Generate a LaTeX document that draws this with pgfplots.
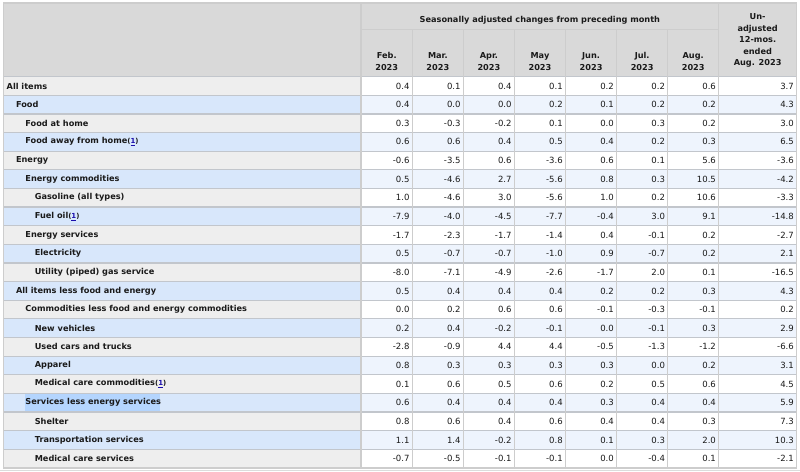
\documentclass[border=0pt]{standalone}
\usepackage{pgfplots}
\usepackage{pgfplotstable}
\pgfplotsset{compat=1.18}
\usepackage{fontspec}
\setmainfont{DejaVu Sans}
\definecolor{hdr}{HTML}{D9D9D9}
\definecolor{graylab}{HTML}{EEEEEE}
\definecolor{bluelab}{HTML}{D8E7FB}
\definecolor{bluenum}{HTML}{EEF4FD}
\definecolor{gridc}{HTML}{C2C6CC}
\definecolor{vgrid}{HTML}{CDCDCD}
\definecolor{sel}{HTML}{B4D5FE}
\definecolor{linkblue}{HTML}{1A0DAB}
\definecolor{txt}{HTML}{1A1A1A}
\newcommand\labfont{\fontsize{6.15}{7}\selectfont\bfseries}
\newcommand\numfont{\fontsize{6.4}{7}\selectfont}
\newcommand\fn{{\fontsize{5.2}{6}\selectfont(\textcolor{linkblue}{\underline{1}})}}

\pgfplotstableread{
row feb mar apr may jun jul aug yoy
1  0.4  0.1  0.4  0.1  0.2  0.2  0.6  3.7
2  0.4  0.0  0.0  0.2  0.1  0.2  0.2  4.3
3  0.3  -0.3 -0.2 0.1  0.0  0.3  0.2  3.0
4  0.6  0.6  0.4  0.5  0.4  0.2  0.3  6.5
5  -0.6 -3.5 0.6  -3.6 0.6  0.1  5.6  -3.6
6  0.5  -4.6 2.7  -5.6 0.8  0.3  10.5 -4.2
7  1.0  -4.6 3.0  -5.6 1.0  0.2  10.6 -3.3
8  -7.9 -4.0 -4.5 -7.7 -0.4 3.0  9.1  -14.8
9  -1.7 -2.3 -1.7 -1.4 0.4  -0.1 0.2  -2.7
10 0.5  -0.7 -0.7 -1.0 0.9  -0.7 0.2  2.1
11 -8.0 -7.1 -4.9 -2.6 -1.7 2.0  0.1  -16.5
12 0.5  0.4  0.4  0.4  0.2  0.2  0.3  4.3
13 0.0  0.2  0.6  0.6  -0.1 -0.3 -0.1 0.2
14 0.2  0.4  -0.2 -0.1 0.0  -0.1 0.3  2.9
15 -2.8 -0.9 4.4  4.4  -0.5 -1.3 -1.2 -6.6
16 0.8  0.3  0.3  0.3  0.3  0.0  0.2  3.1
17 0.1  0.6  0.5  0.6  0.2  0.5  0.6  4.5
18 0.6  0.4  0.4  0.4  0.3  0.4  0.4  5.9
19 0.8  0.6  0.4  0.6  0.4  0.4  0.3  7.3
20 1.1  1.4  -0.2 0.8  0.1  0.3  2.0  10.3
21 -0.7 -0.5 -0.1 -0.1 0.0  -0.4 0.1  -2.1
}\cpi

\begin{document}
\begin{tikzpicture}
\begin{axis}[
  scale only axis, width=600pt, height=354pt,
  xmin=0, xmax=800, ymin=-3.613, ymax=21.695, y dir=reverse,
  hide axis, clip=false,
  numcol/.style={draw=none, mark=none, nodes near coords,
     point meta=explicit symbolic,
     nodes near coords style={anchor=east, inner sep=0pt, font=\numfont, text=txt}},
]
% page background
\fill[white] (0,-3.613) rectangle (800,21.695);
% header
\fill[hdr] (3,-3.452) rectangle (797,0.5);
% row backgrounds
\pgfplotsinvokeforeach{1,3,...,21}{
  \fill[graylab] (3,#1-0.5) rectangle (361,#1+0.5);
  \fill[white] (361,#1-0.5) rectangle (797,#1+0.5);
}
\pgfplotsinvokeforeach{2,4,...,20}{
  \fill[bluelab] (3,#1-0.5) rectangle (361,#1+0.5);
  \fill[bluenum] (361,#1-0.5) rectangle (797,#1+0.5);
}
% selection highlight
\fill[sel] (24.5,17.56) rectangle (160,18.44);
% horizontal lines
\pgfplotsinvokeforeach{1,...,20}{
  \draw[gridc, line width=0.9pt] (3,#1+0.5) -- (797,#1+0.5);
}
\draw[gridc, line width=1.1pt] (3,0.5) -- (797,0.5);
\draw[gridc, line width=1.1pt] (3,21.5) -- (797,21.5);
% vertical lines
\pgfplotsinvokeforeach{412.3,463.4,514.5,565.7,616.8,668,719}{
  \draw[vgrid, line width=0.9pt] (#1,-2.031) -- (#1,21.5);
}
\draw[vgrid, line width=0.9pt] (361,-3.452) -- (361,21.5);
\draw[vgrid, line width=0.9pt] (719,-3.452) -- (719,-2.031);
\draw[vgrid, line width=0.9pt] (361,-2.031) -- (719,-2.031);
% outer border
\draw[vgrid, line width=0.9pt] (3,-3.452) rectangle (797,21.5);
\draw[vgrid!70, line width=0.6pt] (0,21.62) -- (800,21.62);

% header texts
\node[font=\labfont, text=txt] at (540,-2.514) {Seasonally adjusted changes from preceding month};
\node[font=\labfont, text=txt, align=center] at (386.7,-0.315) {Feb.\\[1.6pt]2023};
\node[font=\labfont, text=txt, align=center] at (437.9,-0.315) {Mar.\\[1.6pt]2023};
\node[font=\labfont, text=txt, align=center] at (489.0,-0.315) {Apr.\\[1.6pt]2023};
\node[font=\labfont, text=txt, align=center] at (540.1,-0.315) {May\\[1.6pt]2023};
\node[font=\labfont, text=txt, align=center] at (591.3,-0.315) {Jun.\\[1.6pt]2023};
\node[font=\labfont, text=txt, align=center] at (642.4,-0.315) {Jul.\\[1.6pt]2023};
\node[font=\labfont, text=txt, align=center] at (693.5,-0.315) {Aug.\\[1.6pt]2023};
\node[font=\labfont, text=txt, align=center] at (758,-1.441) {Un-\\[1.6pt]adjusted\\[1.6pt]12-mos.\\[1.6pt]ended\\[1.6pt]Aug. 2023};

% row labels
\node[font=\labfont, text=txt, anchor=west, inner sep=0pt] at (6,1) {All items};
\node[font=\labfont, text=txt, anchor=west, inner sep=0pt] at (15.4,2) {Food};
\node[font=\labfont, text=txt, anchor=west, inner sep=0pt] at (24.8,3) {Food at home};
\node[font=\labfont, text=txt, anchor=west, inner sep=0pt] at (24.8,4) {Food away from home\fn};
\node[font=\labfont, text=txt, anchor=west, inner sep=0pt] at (15.4,5) {Energy};
\node[font=\labfont, text=txt, anchor=west, inner sep=0pt] at (24.8,6) {Energy commodities};
\node[font=\labfont, text=txt, anchor=west, inner sep=0pt] at (34.2,7) {Gasoline (all types)};
\node[font=\labfont, text=txt, anchor=west, inner sep=0pt] at (34.2,8) {Fuel oil\fn};
\node[font=\labfont, text=txt, anchor=west, inner sep=0pt] at (24.8,9) {Energy services};
\node[font=\labfont, text=txt, anchor=west, inner sep=0pt] at (34.2,10) {Electricity};
\node[font=\labfont, text=txt, anchor=west, inner sep=0pt] at (34.2,11) {Utility (piped) gas service};
\node[font=\labfont, text=txt, anchor=west, inner sep=0pt] at (15.4,12) {All items less food and energy};
\node[font=\labfont, text=txt, anchor=west, inner sep=0pt] at (24.8,13) {Commodities less food and energy commodities};
\node[font=\labfont, text=txt, anchor=west, inner sep=0pt] at (34.2,14) {New vehicles};
\node[font=\labfont, text=txt, anchor=west, inner sep=0pt] at (34.2,15) {Used cars and trucks};
\node[font=\labfont, text=txt, anchor=west, inner sep=0pt] at (34.2,16) {Apparel};
\node[font=\labfont, text=txt, anchor=west, inner sep=0pt] at (34.2,17) {Medical care commodities\fn};
\node[font=\labfont, text=txt, anchor=west, inner sep=0pt] at (24.8,18) {Services less energy services};
\node[font=\labfont, text=txt, anchor=west, inner sep=0pt] at (34.2,19) {Shelter};
\node[font=\labfont, text=txt, anchor=west, inner sep=0pt] at (34.2,20) {Transportation services};
\node[font=\labfont, text=txt, anchor=west, inner sep=0pt] at (34.2,21) {Medical care services};

% numeric data
\addplot[numcol] table[x expr=409.8, y=row, meta=feb] {\cpi};
\addplot[numcol] table[x expr=460.9, y=row, meta=mar] {\cpi};
\addplot[numcol] table[x expr=512.0, y=row, meta=apr] {\cpi};
\addplot[numcol] table[x expr=563.2, y=row, meta=may] {\cpi};
\addplot[numcol] table[x expr=614.3, y=row, meta=jun] {\cpi};
\addplot[numcol] table[x expr=665.5, y=row, meta=jul] {\cpi};
\addplot[numcol] table[x expr=716.5, y=row, meta=aug] {\cpi};
\addplot[numcol] table[x expr=794.5, y=row, meta=yoy] {\cpi};
\end{axis}
\end{tikzpicture}
\end{document}
